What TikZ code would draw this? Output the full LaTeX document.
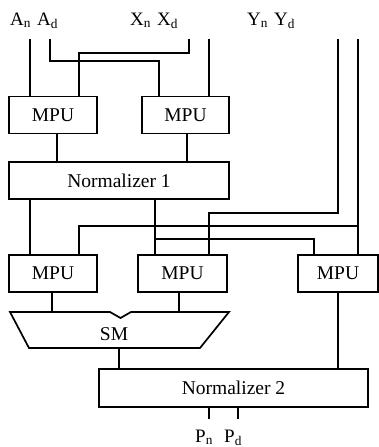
\documentclass[tikz,border=0pt]{standalone}
\usepackage{fontspec}
\setmainfont{Liberation Serif}
\usetikzlibrary{calc}

\tikzset{
  blk/.style={draw, line width=1.7pt, inner sep=0pt, minimum height=37pt,
    font=\fontsize{19.5}{22}\selectfont},
  sig/.style={inner sep=0pt, font=\fontsize{19}{21}\selectfont},
  wire/.style={line width=1.7pt}
}

\begin{document}
\begin{tikzpicture}[x=1pt, y=-1pt]
  \useasboundingbox (0,0) rectangle (379,447);

  % operand names on top
  \node[sig, anchor=base west] (an) at (10,25) {A\textsubscript{n}};
  \node[sig, anchor=base west] (ad) at (37,25) {A\textsubscript{d}};
  \node[sig, anchor=base west] (xn) at (130,25) {X\textsubscript{n}};
  \node[sig, anchor=base west] (xd) at (157,25) {X\textsubscript{d}};
  \node[sig, anchor=base west] (yn) at (247,25) {Y\textsubscript{n}};
  \node[sig, anchor=base west] (yd) at (274,25) {Y\textsubscript{d}};

  % wire ends under the names
  \coordinate (inAn) at (30,39);
  \coordinate (inAd) at (50,39);
  \coordinate (inXn) at (189,39);
  \coordinate (inXd) at (209,39);
  \coordinate (inYn) at (338,39);
  \coordinate (inYd) at (358,39);

  % first stage
  \node[blk, minimum width=88pt] (mpuA) at (53,115) {MPU};
  \node[blk, minimum width=87pt] (mpuX) at (185.5,115) {MPU};
  \node[blk, minimum width=220pt] (norm1) at (119,180.5) {Normalizer 1};

  % second stage
  \node[blk, minimum width=88pt] (mpuL) at (53,273.5) {MPU};
  \node[blk, minimum width=89pt] (mpuM) at (182.5,273.5) {MPU};
  \node[blk, minimum width=80pt] (mpuR) at (338,273.5) {MPU};

  % SM block with the notch on top
  \draw[wire] (10,312) -- (110,312) -- (120.5,318) -- (131,312) -- (229,312)
    -- (200,348) -- (29,348) -- cycle;
  \node[blk, draw=none, minimum height=0pt] (sm) at (114,334) {SM};
  \coordinate (smtop) at (0,312);
  \coordinate (smbot) at (119,348);

  \node[blk, minimum width=269pt, minimum height=38pt] (norm2) at (233.5,388) {Normalizer 2};

  % result names
  \node[sig, anchor=base west] (pn) at (195,442) {P\textsubscript{n}};
  \node[sig, anchor=base west] (pd) at (224,442) {P\textsubscript{d}};
  \coordinate (outPn) at (209,419);
  \coordinate (outPd) at (238,419);

  % inputs into first stage
  \draw[wire] (inAn) -- (inAn |- mpuA.north);
  \draw[wire] (inAd) -- ++(0,22) -| ([xshift=-26.5pt]mpuX.north);
  \draw[wire] (inXn) -- ++(0,14) -| ([xshift=26pt]mpuA.north);
  \draw[wire] (inXd) -- (inXd |- mpuX.north);

  % first stage into normalizer
  \draw[wire] ([xshift=4pt]mpuA.south) -- ([xshift=4pt]mpuA.south |- norm1.north);
  \draw[wire] ([xshift=1.5pt]mpuX.south) -- ([xshift=1.5pt]mpuX.south |- norm1.north);

  % normalizer 1 into second stage
  \draw[wire] ([xshift=-23pt]mpuL.north |- norm1.south) -- ([xshift=-23pt]mpuL.north);
  \draw[wire] ([xshift=-27.5pt]mpuM.north |- norm1.south) -- ([xshift=-27.5pt]mpuM.north);
  \draw[wire] ($([xshift=-27.5pt]mpuM.north)+(0,-15)$) -| ([xshift=-24pt]mpuR.north);

  % Y operands
  \draw[wire] (inYn) -- (338,213) -| ([xshift=26.5pt]mpuM.north);
  \draw[wire] (inYd) -- (inYd |- mpuR.north);
  \draw[wire] (358,226) -| ([xshift=26pt]mpuL.north);

  % second stage into SM and normalizer 2
  \draw[wire] ([xshift=-1pt]mpuL.south) -- ([xshift=-1pt]mpuL.south |- smtop);
  \draw[wire] ([xshift=-3.5pt]mpuM.south) -- ([xshift=-3.5pt]mpuM.south |- smtop);
  \draw[wire] (smbot) -- (smbot |- norm2.north);
  \draw[wire] (mpuR.south) -- (mpuR.south |- norm2.north);

  % outputs
  \draw[wire] (outPn |- norm2.south) -- (outPn);
  \draw[wire] (outPd |- norm2.south) -- (outPd);
\end{tikzpicture}
\end{document}
